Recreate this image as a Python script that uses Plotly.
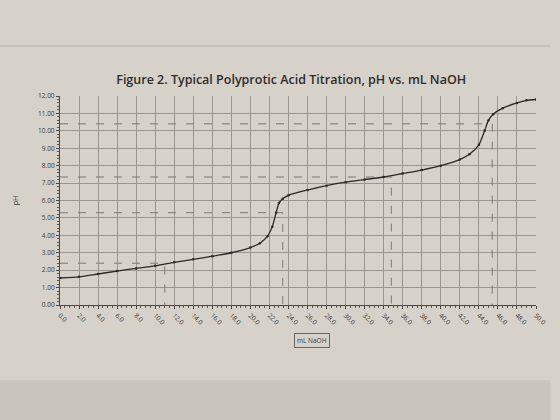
import plotly.graph_objects as go

# Titration data (mL NaOH vs pH)
ml_naoh = [0, 2, 4, 6, 8, 10, 12, 14, 16, 18, 20, 21, 21.8, 22.3, 22.7, 23.0, 23.4, 24, 26, 28, 30, 32, 34, 36,
           38, 40, 42, 43, 44, 44.6, 45.0, 45.5, 46.5, 48, 49, 50]
ph = [1.55, 1.62, 1.78, 1.95, 2.1, 2.25, 2.45, 2.62, 2.8, 3.0, 3.3, 3.55, 3.95, 4.5, 5.3, 5.85, 6.1, 6.3, 6.6,
      6.85, 7.05, 7.2, 7.35, 7.55, 7.75, 8.0, 8.35, 8.65, 9.2, 10.0, 10.6, 10.95, 11.3, 11.6, 11.75, 11.8]

# Half-equivalence reference lines (end mL, pH)
ref_ml = [11.0, 23.4, 34.8, 45.4]
ref_ph = [2.4, 5.3, 7.35, 10.4]

x_ticks = [i * 2 for i in range(26)]
y_ticks = list(range(13))

paper = "#d6d1c9"
grid = "#9b9690"

fig = go.Figure()

for xm, yp in zip(ref_ml, ref_ph):
    fig.add_trace(go.Scatter(x=[0, xm, xm], y=[yp, yp, 0], mode="lines",
                             line=dict(color="#7d7873", width=1, dash="8px,10px"),
                             hoverinfo="skip", showlegend=False))

fig.add_trace(go.Scatter(x=ml_naoh, y=ph, mode="lines+markers",
                         line=dict(color="#2b2926", width=1.3, shape="spline", smoothing=0.6),
                         marker=dict(size=2.5, color="#2b2926"), showlegend=False))

fig.update_layout(
    width=560, height=420,
    margin=dict(l=60, r=12, t=96, b=115),
    paper_bgcolor=paper, plot_bgcolor=paper,
    title=dict(text="Figure 2. Typical Polyprotic Acid Titration, pH vs. mL NaOH",
               x=0.52, xanchor="center", y=0.81, yanchor="middle",
               font=dict(family="Open Sans", size=12.5, color="#2e2c2a", weight=600)),
    xaxis=dict(range=[0, 50], tickvals=x_ticks, ticktext=[f"{v:.1f}" for v in x_ticks],
               tickangle=45, tickfont=dict(size=6.5, color="#3a3835", family="Open Sans"),
               showgrid=True, gridcolor=grid, gridwidth=0.7, zeroline=False,
               showline=True, linecolor="#4a4744", linewidth=1.2,
               ticks="outside", ticklen=3, tickcolor="#4a4744",
               minor=dict(ticks="outside", ticklen=2, dtick=0.5, tickcolor="#5a5754")),
    yaxis=dict(range=[0, 12], tickvals=y_ticks, ticktext=[f"{v:.2f}" for v in y_ticks],
               tickfont=dict(size=6.5, color="#3a3835", family="Open Sans"),
               showgrid=True, gridcolor=grid, gridwidth=0.7, zeroline=False,
               showline=True, linecolor="#4a4744", linewidth=1.2,
               ticks="outside", ticklen=3, tickcolor="#4a4744",
               minor=dict(ticks="outside", ticklen=2, dtick=0.2, tickcolor="#5a5754"),
               title=dict(text="pH", font=dict(size=7, color="#3a3835"), standoff=18)),
    annotations=[dict(text="mL NaOH", xref="paper", yref="paper", x=0.529, y=-0.172,
                      yanchor="middle", showarrow=False,
                      font=dict(size=6.5, color="#3a3835", family="Open Sans"),
                      bordercolor="#6a6663", borderwidth=1, borderpad=2, bgcolor=paper)],
    shapes=[dict(type="line", xref="paper", yref="paper", x0=-0.13, x1=1.03, y0=1.239, y1=1.239,
                 line=dict(color="#b5b1ab", width=1)),
            dict(type="rect", xref="paper", yref="paper", x0=-0.13, x1=1.03, y0=-0.73, y1=-0.36,
                 line=dict(width=0), fillcolor="#c9c5be", layer="below")],
)

fig.write_html("out.html")
